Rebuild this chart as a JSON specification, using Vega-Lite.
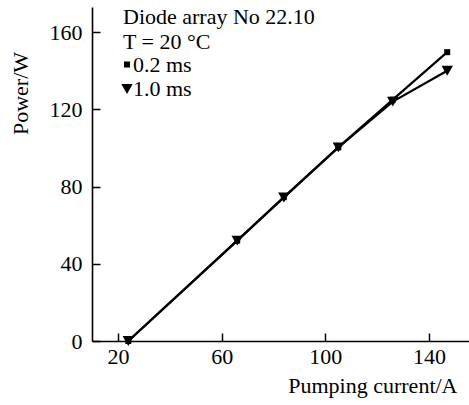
{
  "$schema": "https://vega.github.io/schema/vega-lite/v6.json",
  "width": 377,
  "height": 334,
  "autosize": "none",
  "padding": {"left": 92, "top": 7, "right": 0, "bottom": 64},
  "background": "white",
  "config": {
    "view": {"stroke": null},
    "font": "Liberation Serif",
    "axis": {
      "domainColor": "black",
      "domainWidth": 1.6,
      "tickColor": "black",
      "tickWidth": 1.5,
      "tickSize": -8,
      "grid": false,
      "labelFont": "Liberation Serif",
      "labelFontSize": 22,
      "labelColor": "black",
      "titleFont": "Liberation Serif",
      "titleFontSize": 22,
      "titleFontWeight": "normal",
      "titleColor": "black"
    },
    "legend": {
      "titleFont": "Liberation Serif",
      "labelFont": "Liberation Serif"
    }
  },
  "data": {
    "values": [
      {"current": 24, "power": 0, "series": "0.2 ms"},
      {"current": 66, "power": 52, "series": "0.2 ms"},
      {"current": 84, "power": 74.5, "series": "0.2 ms"},
      {"current": 105, "power": 100.3, "series": "0.2 ms"},
      {"current": 126, "power": 125, "series": "0.2 ms"},
      {"current": 147, "power": 149.6, "series": "0.2 ms"},
      {"current": 24, "power": 0, "series": "1.0 ms"},
      {"current": 66, "power": 52, "series": "1.0 ms"},
      {"current": 84, "power": 74.3, "series": "1.0 ms"},
      {"current": 105, "power": 100.3, "series": "1.0 ms"},
      {"current": 126, "power": 124, "series": "1.0 ms"},
      {"current": 147, "power": 140, "series": "1.0 ms"}
    ]
  },
  "encoding": {
    "x": {
      "field": "current",
      "type": "quantitative",
      "scale": {"domain": [10, 155.4], "nice": false, "zero": false},
      "axis": {
        "values": [20, 60, 100, 140],
        "title": "Pumping current/A",
        "titleAnchor": "end",
        "titleAlign": "right",
        "titleX": 365,
        "titleY": 44,
        "titleBaseline": "middle",
        "labelPadding": 13
      }
    },
    "y": {
      "field": "power",
      "type": "quantitative",
      "scale": {"domain": [0, 173], "nice": false},
      "axis": {
        "values": [0, 40, 80, 120, 160],
        "title": "Power/W",
        "titleX": -72,
        "titleY": 86,
        "titleAnchor": "middle",
        "titleAlign": "center",
        "titleBaseline": "middle",
        "labelPadding": 18
      }
    }
  },
  "layer": [
    {
      "mark": {"type": "line", "color": "black", "strokeWidth": 2.2},
      "encoding": {"detail": {"field": "series", "type": "nominal"}}
    },
    {
      "mark": {"type": "point", "filled": true, "color": "black", "opacity": 1},
      "encoding": {
        "shape": {
          "field": "series",
          "type": "nominal",
          "scale": {"domain": ["0.2 ms", "1.0 ms"], "range": ["square", "triangle-down"]},
          "legend": {
            "orient": "none",
            "legendX": 31,
            "legendY": 0,
            "padding": 0,
            "title": ["Diode array No 22.10", "T = 20 °C"],
            "titleFontSize": 22,
            "titleFontWeight": "normal",
            "titleColor": "black",
            "titleLimit": 400,
            "titleLineHeight": 24.5,
            "titlePadding": 0,
            "labelFontSize": 22,
            "labelColor": "black",
            "labelOffset": -5,
            "symbolOffset": -7,
            "rowPadding": 2.5,
            "symbolFillColor": "black",
            "symbolStrokeColor": "black",
            "symbolStrokeWidth": 0,
            "symbolOpacity": 1
          }
        },
        "size": {
          "field": "series",
          "type": "nominal",
          "scale": {"domain": ["0.2 ms", "1.0 ms"], "range": [36, 130]},
          "legend": {
            "orient": "none",
            "legendX": 31,
            "legendY": 0,
            "padding": 0,
            "title": ["Diode array No 22.10", "T = 20 °C"],
            "titleFontSize": 22,
            "titleFontWeight": "normal",
            "titleColor": "black",
            "titleLimit": 400,
            "titleLineHeight": 24.5,
            "titlePadding": 0,
            "labelFontSize": 22,
            "labelColor": "black",
            "labelOffset": -5,
            "symbolOffset": -7,
            "rowPadding": 2.5,
            "symbolFillColor": "black",
            "symbolStrokeColor": "black",
            "symbolStrokeWidth": 0,
            "symbolOpacity": 1
          }
        }
      }
    }
  ]
}
